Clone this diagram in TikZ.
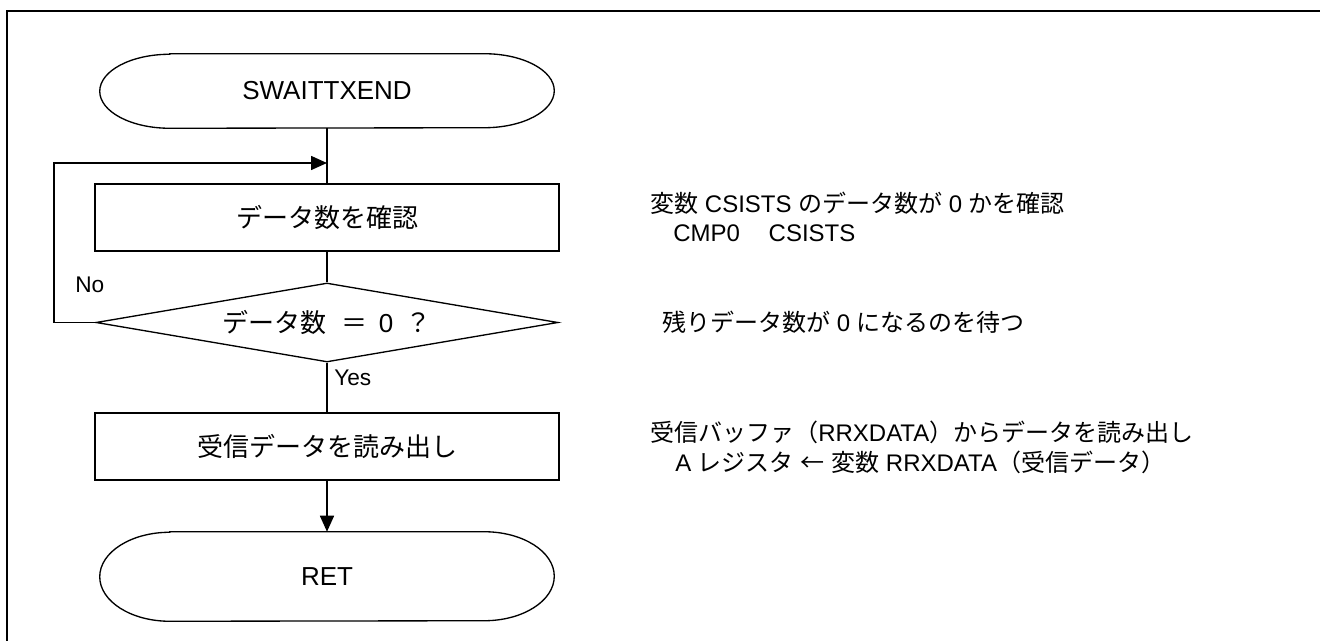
\documentclass[tikz,border=0pt]{standalone}
\usepackage{fontspec}
\setmainfont{Liberation Sans}
\newfontfamily\jp{Noto Sans CJK JP}
\usetikzlibrary{arrows.meta,calc,shapes.geometric}
\newcommand\flowfont{\fontsize{19.5}{23}\selectfont}
\newcommand\notefont{\fontsize{18}{21}\selectfont}
\newcommand\lblfont{\fontsize{17}{20}\selectfont}
\tikzset{
  flowline/.style={line width=1.2pt},
  arr/.style={-{Triangle[length=12pt,width=10.5pt]}},
  outline/.style={line width=1pt},
  procbox/.style={draw,outline,rectangle,minimum width=348pt,minimum height=50.25pt,inner sep=0pt,font=\flowfont},
  termbox/.style={rectangle,minimum width=340.5pt,inner sep=0pt,font=\flowfont},
  decbox/.style={draw,outline,diamond,aspect=5.85,minimum width=346.5pt,minimum height=59.25pt,inner sep=0pt,font=\flowfont},
  lbl/.style={inner sep=0pt,anchor=west,font=\lblfont},
  note/.style={inner sep=0pt,anchor=west,font=\notefont},
}
\newcommand\termoutline[2]{%
  \draw[outline] ($(#1.north west)+(70,0)$) -- ($(#1.north east)+(-70,0)$)
    arc[start angle=90,end angle=-90,x radius=52.5pt,y radius=#2]
    -- ($(#1.south west)+(70,0)$)
    arc[start angle=270,end angle=90,x radius=52.5pt,y radius=#2] -- cycle;}
\begin{document}
\begin{tikzpicture}[x=0.75pt,y=-0.75pt]
\useasboundingbox (0,0) rectangle (1320,641);
% frame
\coordinate (fbl) at (7,641);
\coordinate (ftl) at (7,11);
\coordinate (ftr) at (1320,11);
\draw[line width=1.6pt] (fbl) -- (ftl) -- (ftr);
% flowchart
\node[termbox,minimum height=55.5pt] (start) at (327,91) {SWAITTXEND};
\termoutline{start}{27.75pt}
\node[procbox] (chk) at (327,217.5) {\jp データ数を確認};
\node[decbox] (dec) at (327,322.5) {{\jp データ数}\hspace{0.55em}{\jp ＝}\hspace{0.45em}0\hspace{0.45em}{\jp ？}};
\node[procbox] (rd) at (327,446.5) {\jp 受信データを読み出し};
\node[termbox,minimum height=66.75pt] (ret) at (327,576.5) {RET};
\termoutline{ret}{33.375pt}
\coordinate (merge) at (327,163);
\coordinate (loopx) at (54,163);
\draw[flowline] (start.south) -- (chk.north);
\draw[flowline] (chk.south) -- (dec.north);
\draw[flowline] (dec.south) -- (rd.north);
\draw[flowline,arr] (rd.south) -- (ret.north);
\draw[flowline,arr] (dec.west) -- (dec.west -| loopx) -- (loopx) -- (merge);
\node[lbl] (no) at (75,285) {No};
\node[lbl] (yes) at (334,378) {Yes};
% notes
\node[note] (n1a) at (650,203) {{\jp 変数} CSISTS {\jp のデータ数が} 0 {\jp かを確認}};
\node[note] (n1b) at (673,233) {CMP0\hspace{1.2em}CSISTS};
\node[note] (n2) at (662,322) {{\jp 残りデータ数が} 0 {\jp になるのを待つ}};
\node[note] (n3a) at (650,432) {{\jp 受信バッファ（}RRXDATA{\jp ）からデータを読み出し}};
\node[note] (n3b) at (675,462) {A {\jp レジスタ} {\jp ←} {\jp 変数} RRXDATA{\jp （受信データ）}};
\end{tikzpicture}
\end{document}
